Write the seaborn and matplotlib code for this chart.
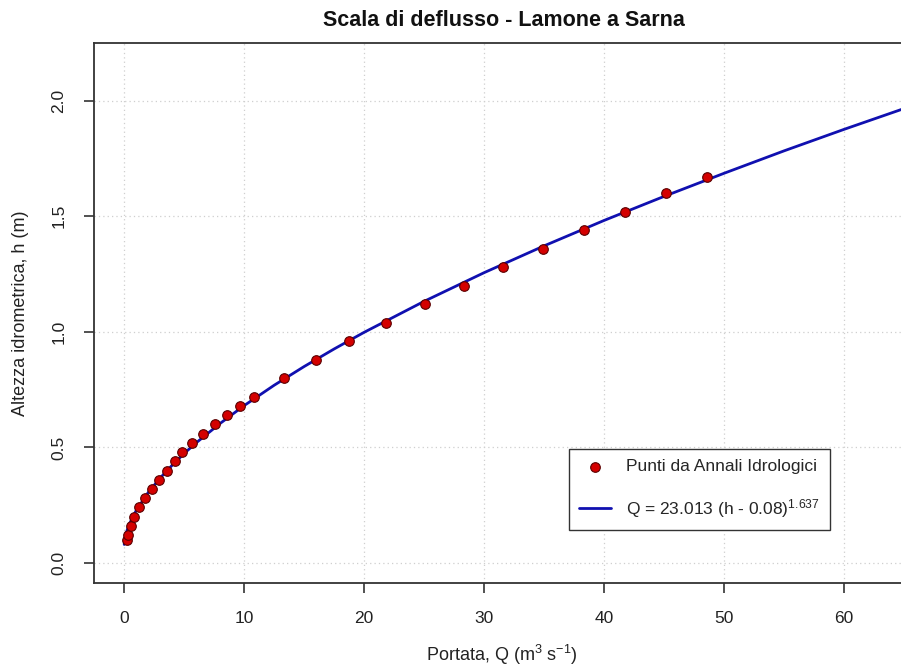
import matplotlib
matplotlib.use("Agg")
import matplotlib.pyplot as plt
import seaborn as sns
import pandas as pd

obs_Q = [0.2, 0.3, 0.53, 0.83, 1.25, 1.75, 2.28, 2.92, 3.56, 4.2, 4.83, 5.64, 6.56,
         7.58, 8.58, 9.64, 10.78, 13.3, 15.95, 18.75, 21.83, 25.05, 28.3, 31.6,
         34.9, 38.3, 41.75, 45.2, 48.6]
obs_h = [0.10, 0.12, 0.16, 0.20, 0.24, 0.28, 0.32, 0.36, 0.40, 0.44, 0.48, 0.52, 0.56,
         0.60, 0.64, 0.68, 0.72, 0.80, 0.88, 0.96, 1.04, 1.12, 1.20, 1.28,
         1.36, 1.44, 1.52, 1.60, 1.67]

# Rating curve points
curve_Q = [0, 0.02, 0.1, 0.25, 0.5, 1, 2, 3, 4, 5, 6, 8, 10, 12.5, 15, 17.5, 20,
           25, 30, 35, 40, 45, 50, 55, 60, 65]
curve_h = [0.08, 0.094, 0.116, 0.143, 0.176, 0.227, 0.305, 0.368, 0.423, 0.474, 0.520,
           0.604, 0.681, 0.769, 0.850, 0.926, 0.998, 1.132, 1.256, 1.372, 1.482,
           1.586, 1.686, 1.783, 1.876, 1.966]

x_ticks = [0, 10, 20, 30, 40, 50, 60]
y_ticks = [0.0, 0.5, 1.0, 1.5, 2.0]
y_tick_labels = ["0.0", "0.5", "1.0", "1.5", "2.0"]

title = "Scala di deflusso - Lamone a Sarna"
xlabel = "Portata, Q (m$^{3}$ s$^{-1}$)"
ylabel = "Altezza idrometrica, h (m)"
label_pts = "Punti da Annali Idrologici"
label_curve = "Q = 23.013 (h - 0.08)$^{1.637}$"

sns.set_theme(style="white")
plt.rcParams["font.family"] = ["Liberation Sans", "DejaVu Sans"]
plt.rcParams["mathtext.default"] = "regular"

df_obs = pd.DataFrame({"Q": obs_Q, "h": obs_h})
df_curve = pd.DataFrame({"Q": curve_Q, "h": curve_h})

fig = plt.figure(figsize=(9.01, 6.68), dpi=100)
ax = fig.add_axes([94 / 901, (668 - 583.3) / 668, 816 / 901, 540.6 / 668])

for t in x_ticks:
    ax.axvline(t, color="#cfcfcf", lw=0.9, ls=(0, (1, 2.5)), zorder=0)
for t in y_ticks:
    ax.axhline(t, color="#cfcfcf", lw=0.9, ls=(0, (1, 2.5)), zorder=0)

sns.scatterplot(data=df_obs, x="Q", y="h", ax=ax, color="#d40000", edgecolor="#5a0000",
                linewidth=0.8, s=48, zorder=3, label=label_pts)
sns.lineplot(data=df_curve, x="Q", y="h", ax=ax, color="#1010b0", lw=2.0, zorder=2,
             label=label_curve, sort=False)

ax.set_xlim(-2.52, 65.5)
ax.set_ylim(-0.088, 2.251)
ax.set_xticks(x_ticks)
ax.set_xticklabels([str(t) for t in x_ticks])
ax.set_yticks(y_ticks)
ax.set_yticklabels(y_tick_labels, rotation=90, va="center")

ax.tick_params(axis="both", which="both", direction="out", length=7, width=1.1,
               color="#222222", labelsize=12.5, labelcolor="#222222", pad=13,
               bottom=True, left=True)
for side in ["left", "top", "bottom"]:
    ax.spines[side].set_color("#333333")
    ax.spines[side].set_linewidth(1.3)
ax.spines["right"].set_visible(False)

ax.set_xlabel(xlabel, fontsize=13, color="#222222", labelpad=12)
ax.set_ylabel(ylabel, fontsize=13, color="#222222", labelpad=16)
fig.text(504 / 901, 1 - 21 / 668, title, ha="center", va="center", fontsize=15.5,
         fontweight="bold", color="#111111")

leg = ax.legend(loc="lower left", bbox_to_anchor=(0.582, 0.0986), borderaxespad=0,
                fontsize=12.5, frameon=True, fancybox=False, framealpha=1,
                edgecolor="#333333", handlelength=1.85, borderpad=0.6,
                labelspacing=1.3, handletextpad=0.85)
leg.get_frame().set_linewidth(1.0)

fig.savefig("out.png", dpi=100)
